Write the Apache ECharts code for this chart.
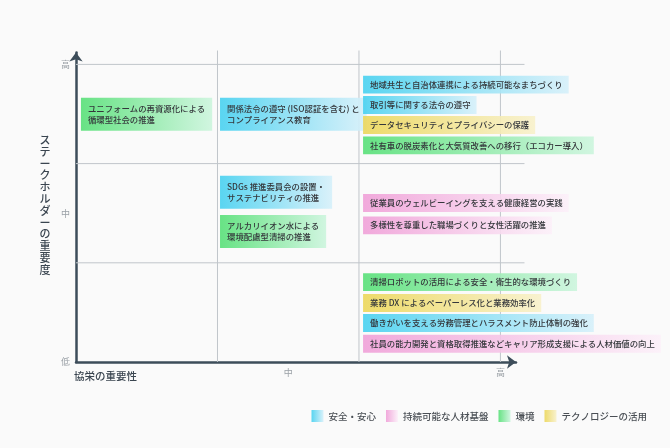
<!DOCTYPE html>
<html><head><meta charset="utf-8">
<script src="https://cdn.jsdelivr.net/npm/echarts@6/dist/echarts.min.js"></script>
<style>html,body{margin:0;padding:0;background:#fafafa}#c{width:670px;height:448px}</style>
</head><body><div id="c"></div>
<script>
// ---- data ----
const categories = ['安全・安心', '持続可能な人材基盤', '環境', 'テクノロジーの活用'];
const xTickValues = [1.5, 3];
const xTickLabels = ['中', '高'];
const yTickValues = [0, 1.5, 3];
const yTickLabels = ['低', '中', '高'];
const xAxisName = '協栄の重要性';
const yAxisName = 'ステークホルダーの重要度';
const gridX = [1, 2, 3];
const gridY = [1, 2, 3];

const itemTexts = [
  'ユニフォームの再資源化による\n循環型社会の推進',
  '関係法令の遵守 (ISO認証を含む) と\nコンプライアンス教育',
  'SDGs 推進委員会の設置・\nサステナビリティの推進',
  'アルカリイオン水による\n環境配慮型清掃の推進',
  '地域共生と自治体連携による持続可能なまちづくり',
  '取引等に関する法令の遵守',
  'データセキュリティとプライバシーの保護',
  '社有車の脱炭素化と大気質改善への移行（エコカー導入）',
  '従業員のウェルビーイングを支える健康経営の実践',
  '多様性を尊重した職場づくりと女性活躍の推進',
  '清掃ロボットの活用による安全・衛生的な環境づくり',
  '業務 DX によるペーパーレス化と業務効率化',
  '働きがいを支える労務管理とハラスメント防止体制の強化',
  '社員の能力開発と資格取得推進などキャリア形成支援による人材価値の向上'
];
const itemCategory = [2, 0, 0, 2, 0, 0, 3, 2, 1, 1, 2, 3, 0, 1];
const itemX = [0.035, 1.018, 1.018, 1.018, 2.029, 2.029, 2.029, 2.029, 2.029, 2.029, 2.029, 2.029, 2.029, 2.029];
const itemY = [2.498, 2.498, 1.710, 1.316, 2.797, 2.591, 2.389, 2.184, 1.603, 1.378, 0.806, 0.595, 0.393, 0.184];

// ---- styles ----
const catColors = [
  ['rgba(72,209,240,0.9)', 'rgba(214,240,250,0.9)'],
  ['rgba(240,160,216,0.9)', 'rgba(252,240,249,0.9)'],
  ['rgba(88,224,120,0.9)', 'rgba(204,245,221,0.9)'],
  ['rgba(236,215,90,0.9)', 'rgba(248,241,203,0.9)']
];
function grad(c) {
  return new echarts.graphic.LinearGradient(0, 0, 1, 0, [
    { offset: 0, color: c[0] }, { offset: 1, color: c[1] }
  ]);
}
const FONT = '"Noto Sans CJK JP","Noto Sans",sans-serif';
const X_LINE_END = 3.17, Y_LINE_END = 3.14;

function renderItem(params, api) {
  const idx = api.value(2);
  const p = api.coord([api.value(0), api.value(1)]);
  const text = itemTexts[idx];
  const multi = text.indexOf('\n') >= 0;
  return {
    type: 'text',
    x: p[0], y: p[1], z2: 10,
    style: {
      text: text,
      fontFamily: FONT, fontSize: 8.4, fontWeight: 500,
      fill: '#34373b',
      align: 'left', verticalAlign: 'middle',
      lineHeight: 11,
      padding: multi ? [5.5, 7, 5.5, 7] : [3.4, 6, 3.4, 7],
      backgroundColor: grad(catColors[itemCategory[idx]])
    }
  };
}

// grid line segments built from gridX / gridY: [x1, y1, x2, y2]
const gridSegments = [
  ...gridX.map(v => [v, 0, v, Y_LINE_END]),
  ...gridY.map(v => [0, v, X_LINE_END, v])
];

const series = [{
  type: 'custom', name: 'grid-lines', clip: false, z: 1, silent: true,
  encode: { x: [0, 2], y: [1, 3] },
  renderItem: function (params, api) {
    const a = api.coord([api.value(0), api.value(1)]);
    const b = api.coord([api.value(2), api.value(3)]);
    return {
      type: 'line',
      shape: { x1: a[0], y1: a[1], x2: b[0], y2: b[1] },
      style: { stroke: '#c0c5ca', lineWidth: 1 }
    };
  },
  data: gridSegments
}];
categories.forEach((name, ci) => {
  const data = [];
  itemTexts.forEach((t, i) => { if (itemCategory[i] === ci) data.push([itemX[i], itemY[i], i]); });
  series.push({
    type: 'custom', name: name, clip: false, z: 3,
    itemStyle: { color: grad(catColors[ci]) },
    encode: { x: 0, y: 1 },
    renderItem: renderItem,
    data: data
  });
});

function tickFmt(values, labels) {
  return function (v) {
    for (let i = 0; i < values.length; i++) if (Math.abs(v - values[i]) < 1e-6) return labels[i];
    return '';
  };
}

const chart = echarts.init(document.getElementById('c'), null, { renderer: 'canvas' });
chart.setOption({
  backgroundColor: '#fafafa',
  animation: false,
  textStyle: { fontFamily: FONT },
  title: [
    { text: xAxisName, left: 69, top: 366, textStyle: { fontFamily: FONT, fontSize: 10.5, fontWeight: 500, color: '#3a4550' } },
    { text: yAxisName.split('').join('\n'), left: 34.5, top: 129,
      textStyle: { fontFamily: FONT, fontSize: 11, fontWeight: 500, color: '#3a4550', lineHeight: 11.8 } }
  ],
  grid: { left: 76, right: 154, top: 52.5, bottom: 86 },
  xAxis: {
    type: 'value', min: 0, max: 3.11, interval: 0.5,
    axisLine: { show: true, symbol: ['none', 'arrow'], symbolSize: [10, 9], lineStyle: { color: '#3d4d5a', width: 2.5 } },
    axisTick: { show: false }, splitLine: { show: false },
    axisLabel: { formatter: tickFmt(xTickValues, xTickLabels), color: '#9aa0a6', fontSize: 9, margin: 6 }
  },
  yAxis: {
    type: 'value', min: 0, max: 3.12, interval: 0.5,
    axisLine: { show: true, symbol: ['none', 'arrow'], symbolSize: [10, 9], lineStyle: { color: '#3d4d5a', width: 2.5 } },
    axisTick: { show: false }, splitLine: { show: false },
    axisLabel: { formatter: tickFmt(yTickValues, yTickLabels), color: '#9aa0a6', fontSize: 9, margin: 6 }
  },
  legend: {
    data: categories, right: 18, top: 405, itemGap: 10, itemWidth: 12, itemHeight: 12, icon: 'rect',
    selectedMode: false,
    textStyle: { fontFamily: FONT, fontSize: 9.5, fontWeight: 500, color: '#4a4f55' }
  },
  series: series
});
</script></body></html>
